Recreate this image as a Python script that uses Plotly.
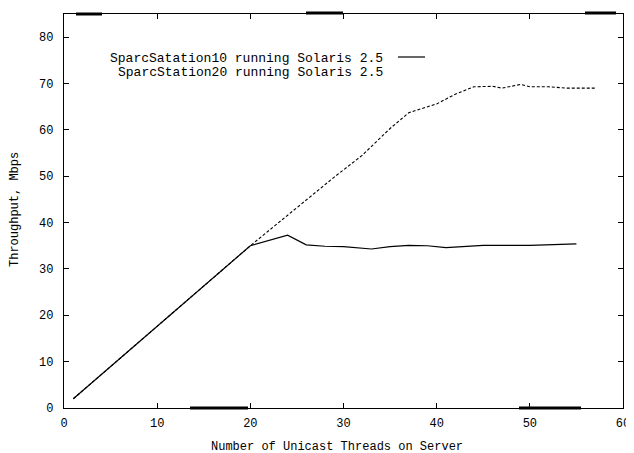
import plotly.graph_objects as go

# Data
ss10_threads = [1, 20, 24, 26, 28, 30, 33, 35, 37, 39, 41, 43, 45, 50, 55]
ss10_mbps = [2.0, 35.0, 37.3, 35.2, 34.9, 34.8, 34.3, 34.8, 35.1, 35.0, 34.6, 34.8, 35.1, 35.1, 35.4]

ss20_threads = [1, 20, 29, 32, 35, 37, 40, 42, 44, 46, 47, 49, 50, 52, 54, 57]
ss20_mbps = [2.0, 35.0, 49.8, 54.5, 60.3, 63.7, 65.6, 67.7, 69.3, 69.4, 69.0, 69.8, 69.3, 69.3, 69.0, 69.0]

x_ticks = [0, 10, 20, 30, 40, 50, 60]
y_ticks = [0, 10, 20, 30, 40, 50, 60, 70, 80]

legend_labels = ["SparcSatation10 running Solaris 2.5", "SparcStation20 running Solaris 2.5"]
x_title = "Number of Unicast Threads on Server"
y_title = "Throughput, Mbps"

FONT = "Liberation Mono, Courier New, monospace"
OFF = 8  # default page body margin
W, H = 634 - OFF, 453 - OFF
# plot frame in window pixels: left 64, right 623, top 14, bottom 408
L, T = 64 - OFF, 14 - OFF
R, B = W + OFF - 623, H + OFF - 408
PW, PH = 623 - 64, 408 - 14


def px_x(px):
    return (px - 64) / PW


def px_y(py):
    return (408 - py) / PH


fig = go.Figure()
fig.add_trace(go.Scatter(x=ss10_threads, y=ss10_mbps, mode="lines",
                         line=dict(color="black", width=1.2), name=legend_labels[0],
                         showlegend=False))
fig.add_trace(go.Scatter(x=ss20_threads, y=ss20_mbps, mode="lines",
                         line=dict(color="black", width=1.1, dash="3px,2px"), name=legend_labels[1],
                         showlegend=False))

axis_common = dict(showline=True, linecolor="black", linewidth=1.2, mirror="ticks",
                   ticks="inside", ticklen=5, tickcolor="black", tickwidth=1,
                   showgrid=False, zeroline=False, automargin=False,
                   tickfont=dict(family=FONT, size=12, color="black"))

fig.update_xaxes(range=[0, 60], tickvals=x_ticks, ticklabelstandoff=3, **axis_common)
fig.update_yaxes(range=[0, 85], tickvals=y_ticks, ticklabelstandoff=7, **axis_common)

# axis titles
fig.add_annotation(xref="paper", yref="paper", x=px_x(337), y=px_y(447),
                   xanchor="center", yanchor="middle", text=x_title, showarrow=False,
                   font=dict(family=FONT, size=12, color="black"))
fig.add_annotation(xref="paper", yref="paper", x=px_x(15), y=px_y(210),
                   xanchor="center", yanchor="middle", text=y_title, showarrow=False,
                   textangle=-90, font=dict(family=FONT, size=12, color="black"))

# gnuplot-style key: text right-aligned, sample line to the right
fig.add_annotation(xref="paper", yref="paper", x=px_x(385), y=px_y(58),
                   xanchor="right", yanchor="middle", text=legend_labels[0], showarrow=False,
                   font=dict(family=FONT, size=13, color="black"))
fig.add_annotation(xref="paper", yref="paper", x=px_x(385), y=px_y(73),
                   xanchor="right", yanchor="middle", text=legend_labels[1], showarrow=False,
                   font=dict(family=FONT, size=13, color="black"))
fig.add_shape(type="line", xref="paper", yref="paper",
              x0=px_x(398), x1=px_x(425), y0=px_y(57), y1=px_y(57),
              line=dict(color="black", width=1.2))

# thick scan marks along the frame
for x0, x1, y in [(190, 248, 408), (519, 581, 408), (76, 102, 14), (306, 343, 13), (585, 616, 13)]:
    fig.add_shape(type="line", xref="paper", yref="paper",
                  x0=px_x(x0), x1=px_x(x1), y0=px_y(y), y1=px_y(y),
                  line=dict(color="black", width=3))

fig.update_layout(width=W, height=H,
                  margin=dict(l=L, r=R, t=T, b=B),
                  paper_bgcolor="white", plot_bgcolor="white",
                  font=dict(family=FONT, size=12, color="black"))

fig.write_html("out.html")
